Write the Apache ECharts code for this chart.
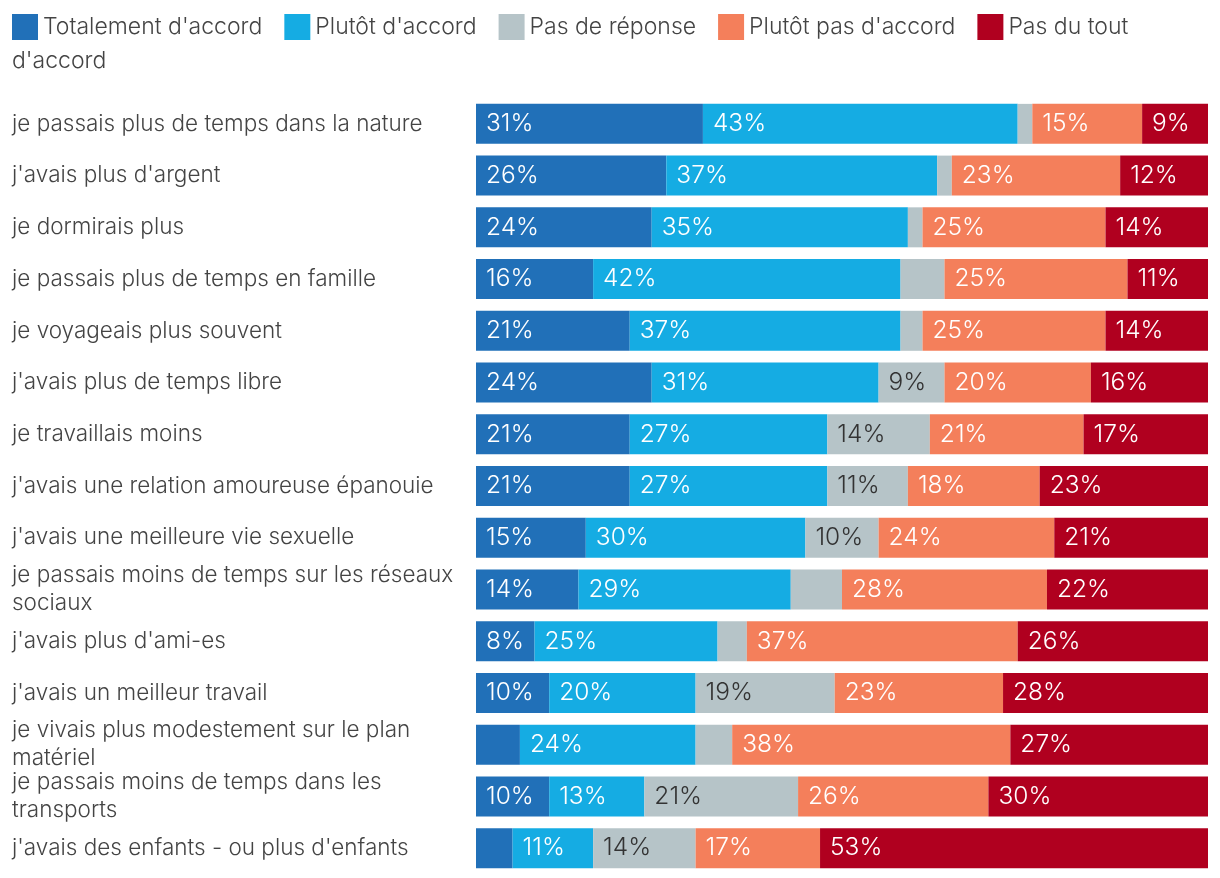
<!DOCTYPE html>
<html><head><meta charset="utf-8">
<script src="https://cdn.jsdelivr.net/npm/echarts@6/dist/echarts.min.js"></script>
<style>html,body{margin:0;padding:0;background:#fff}#c{width:1220px;height:878px}</style>
</head><body><div id="c"></div>
<script>
const categories = [
  "je passais plus de temps dans la nature",
  "j'avais plus d'argent",
  "je dormirais plus",
  "je passais plus de temps en famille",
  "je voyageais plus souvent",
  "j'avais plus de temps libre",
  "je travaillais moins",
  "j'avais une relation amoureuse épanouie",
  "j'avais une meilleure vie sexuelle",
  "je passais moins de temps sur les réseaux sociaux",
  "j'avais plus d'ami-es",
  "j'avais un meilleur travail",
  "je vivais plus modestement sur le plan matériel",
  "je passais moins de temps dans les transports",
  "j'avais des enfants - ou plus d'enfants"
];
const seriesNames = ["Totalement d'accord", "Plutôt d'accord", "Pas de réponse", "Plutôt pas d'accord", "Pas du tout d'accord"];
const totalementDaccord = [31, 26, 24, 16, 21, 24, 21, 21, 15, 14, 8, 10, 6, 10, 5];
const plutotDaccord     = [43, 37, 35, 42, 37, 31, 27, 27, 30, 29, 25, 20, 24, 13, 11];
const pasDeReponse      = [2, 2, 2, 6, 3, 9, 14, 11, 10, 7, 4, 19, 5, 21, 14];
const plutotPasDaccord  = [15, 23, 25, 25, 25, 20, 21, 18, 24, 28, 37, 23, 38, 26, 17];
const pasDuToutDaccord  = [9, 12, 14, 11, 14, 16, 17, 23, 21, 22, 26, 28, 27, 30, 53];
const values = [totalementDaccord, plutotDaccord, pasDeReponse, plutotPasDaccord, pasDuToutDaccord];
const colors = ["#2170b8", "#15ace3", "#b6c4c8", "#f47f5b", "#b0001f"];
const labelColors = ["#ffffff", "#ffffff", "#333333", "#ffffff", "#ffffff"];
const FONT = "Inter";

const chart = echarts.init(document.getElementById('c'), null, {renderer: 'canvas'});
const series = seriesNames.map((name, i) => ({
  name: name,
  type: 'bar',
  stack: 'total',
  barWidth: 40,
  data: values[i],
  itemStyle: {color: colors[i]},
  label: {
    show: true,
    position: 'insideLeft',
    distance: 10,
    color: labelColors[i],
    fontFamily: FONT,
    fontWeight: 300,
    fontSize: 24.5,
    formatter: p => p.value >= 8 ? p.value + '%' : ''
  },
  emphasis: {disabled: true}
}));

chart.setOption({
  animation: false,
  textStyle: {fontFamily: FONT},
  legend: {
    left: 12, top: 14, padding: 0,
    itemWidth: 26, itemHeight: 26,
    itemGap: 22,
    icon: 'rect',
    textStyle: {fontFamily: FONT, fontWeight: 300, fontSize: 23, color: '#444', padding: [2, 0, 0, 0]},
    formatter: n => n === "Pas du tout d'accord" ? 'Pas du tout' : n,
    data: seriesNames
  },
  graphic: [{
    type: 'text', left: 12, top: 50,
    style: {text: "d'accord", fontFamily: FONT, fontWeight: 300, fontSize: 23, fill: '#444'}
  }],
  grid: {left: 476, right: 12, top: 98, bottom: 4, containLabel: false},
  xAxis: {type: 'value', min: 0, max: 100, show: false},
  yAxis: {
    type: 'category',
    inverse: true,
    data: categories,
    axisLine: {show: false},
    axisTick: {show: false},
    axisLabel: {
      align: 'left',
      margin: 464,
      width: 458,
      overflow: 'break',
      fontFamily: FONT,
      fontWeight: 300,
      fontSize: 22.5,
      lineHeight: 28,
      color: '#444'
    }
  },
  series: series
});
</script></body></html>
